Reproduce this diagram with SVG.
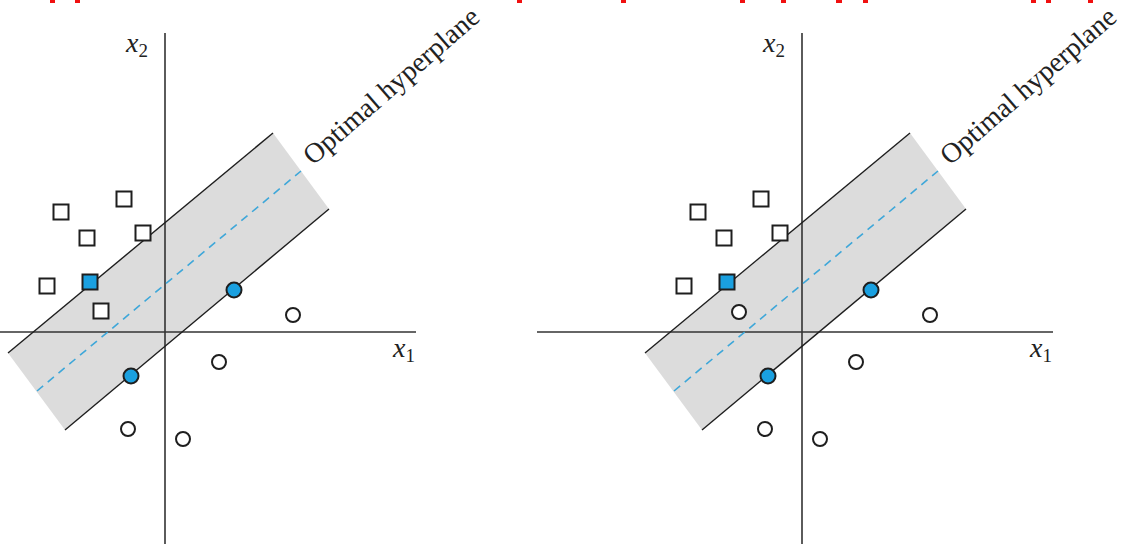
<svg xmlns="http://www.w3.org/2000/svg" width="1124" height="544" viewBox="0 0 1124 544">
  <style>
    .band { fill: #dcdcdc; stroke: none; }
    .edge { stroke: #1e1e1e; stroke-width: 1.4; fill: none; }
    .axis { stroke: #333; stroke-width: 1.6; fill: none; }
    .mid { stroke: #3ea7d9; stroke-width: 1.6; stroke-dasharray: 8 6; fill: none; }
    .sq { fill: #fff; stroke: #1e1e1e; stroke-width: 2; }
    .sqs { fill: #1aa0e0; stroke: #1e1e1e; stroke-width: 2; }
    .ci { fill: #fff; stroke: #1e1e1e; stroke-width: 2; }
    .cis { fill: #1aa0e0; stroke: #1e1e1e; stroke-width: 2; }
    .lbl { font-family: 'Liberation Serif', serif; fill: #222; font-style: italic; font-size: 28px; }
    .sub { font-size: 19px; font-style: normal; }
    .hyp { font-family: 'Liberation Serif', serif; font-size: 28px; fill: #222; }
    .red { fill: #f01010; }
  </style>
  <defs>
    <g id="panelBase">
      <polygon class="band" points="8,353 273,133 329,209 65,430"/>
      <line class="axis" x1="165" y1="33" x2="165" y2="544"/>
      <line class="axis" x1="-100" y1="332" x2="416" y2="332"/>
      <line class="edge" x1="8" y1="353" x2="273" y2="133"/>
      <line class="edge" x1="65" y1="430" x2="329" y2="209"/>
      <line class="mid" x1="37" y1="391" x2="301" y2="171"/>
    </g>
  </defs>

  <g id="title-fragments">
    <rect class="red" x="50" y="0" width="5" height="3"/>
    <rect class="red" x="75" y="0" width="5" height="3"/>
    <rect class="red" x="517" y="0" width="5" height="3"/>
    <rect class="red" x="621" y="0" width="5" height="3"/>
    <rect class="red" x="740" y="0" width="5" height="3"/>
    <rect class="red" x="781" y="0" width="5" height="3"/>
    <rect class="red" x="836" y="0" width="6" height="3"/>
    <rect class="red" x="863" y="0" width="5" height="3"/>
    <rect class="red" x="1031" y="0" width="5" height="3"/>
    <rect class="red" x="1046" y="0" width="5" height="3"/>
    <rect class="red" x="1088" y="0" width="5" height="3"/>
  </g>

  <g id="panel-left">
    <use href="#panelBase"/>
    <text class="lbl" x="126" y="52">x<tspan class="sub" dy="5">2</tspan></text>
    <text class="lbl" x="393" y="357">x<tspan class="sub" dy="5">1</tspan></text>
    <text class="hyp" transform="translate(313,166) rotate(-41)">Optimal hyperplane</text>
    <g id="left-squares">
      <rect class="sq" x="53.5" y="204.5" width="15" height="15"/>
      <rect class="sq" x="116.5" y="191.5" width="15" height="15"/>
      <rect class="sq" x="79.5" y="230.5" width="15" height="15"/>
      <rect class="sq" x="135.5" y="225.5" width="15" height="15"/>
      <rect class="sq" x="39.5" y="278.5" width="15" height="15"/>
      <rect class="sq" x="93.5" y="303.5" width="15" height="15"/>
      <rect class="sqs" x="82.5" y="274.5" width="15" height="15"/>
    </g>
    <g id="left-circles">
      <circle class="ci" cx="293" cy="315" r="7"/>
      <circle class="ci" cx="219" cy="362" r="7"/>
      <circle class="ci" cx="128" cy="429" r="7"/>
      <circle class="ci" cx="183" cy="439" r="7"/>
      <circle class="cis" cx="234" cy="290" r="7.5"/>
      <circle class="cis" cx="131" cy="376" r="7.5"/>
    </g>
  </g>

  <g id="panel-right" transform="translate(637,0)">
    <use href="#panelBase"/>
    <text class="lbl" x="126" y="52">x<tspan class="sub" dy="5">2</tspan></text>
    <text class="lbl" x="393" y="357">x<tspan class="sub" dy="5">1</tspan></text>
    <text class="hyp" transform="translate(313,166) rotate(-41)">Optimal hyperplane</text>
    <g id="right-squares">
      <rect class="sq" x="53.5" y="204.5" width="15" height="15"/>
      <rect class="sq" x="116.5" y="191.5" width="15" height="15"/>
      <rect class="sq" x="79.5" y="230.5" width="15" height="15"/>
      <rect class="sq" x="135.5" y="225.5" width="15" height="15"/>
      <rect class="sq" x="39.5" y="278.5" width="15" height="15"/>
      <rect class="sqs" x="82.5" y="274.5" width="15" height="15"/>
    </g>
    <g id="right-circles">
      <circle class="ci" cx="102" cy="312" r="7"/>
      <circle class="ci" cx="293" cy="315" r="7"/>
      <circle class="ci" cx="219" cy="362" r="7"/>
      <circle class="ci" cx="128" cy="429" r="7"/>
      <circle class="ci" cx="183" cy="439" r="7"/>
      <circle class="cis" cx="234" cy="290" r="7.5"/>
      <circle class="cis" cx="131" cy="376" r="7.5"/>
    </g>
  </g>
</svg>
